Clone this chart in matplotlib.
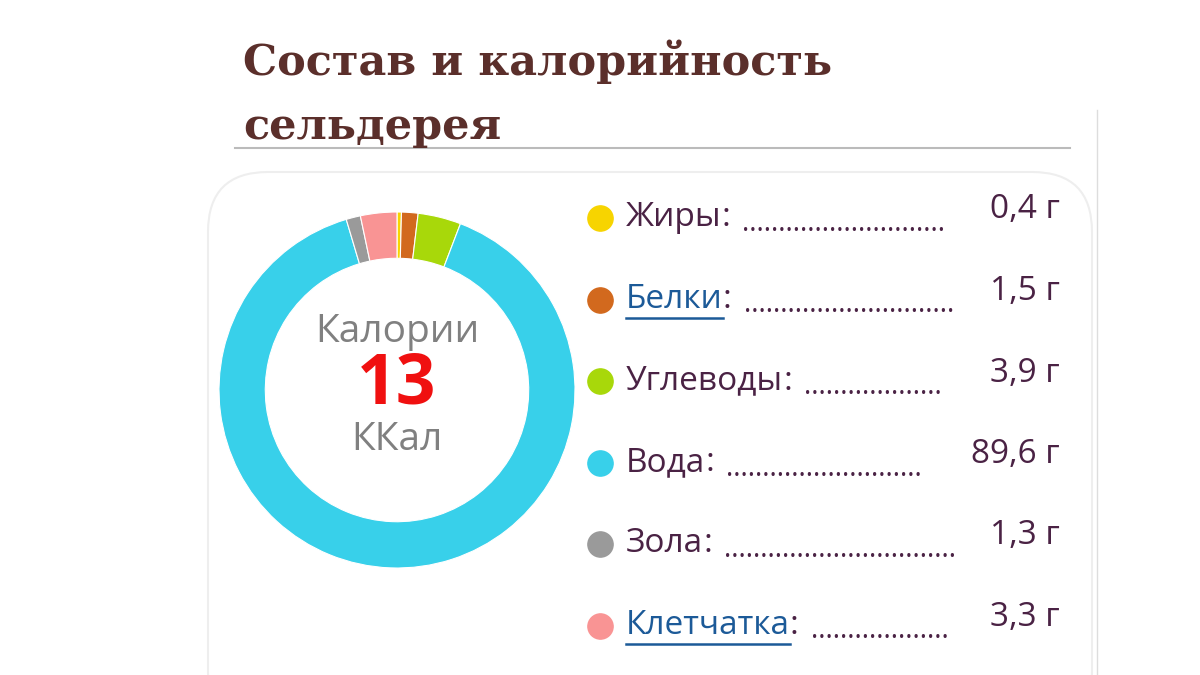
import matplotlib
matplotlib.use("Agg")
from matplotlib import pyplot as plt
from matplotlib.patches import FancyBboxPatch

names = ["Жиры", "Белки", "Углеводы", "Вода", "Зола", "Клетчатка"]
grams = [0.4, 1.5, 3.9, 89.6, 1.3, 3.3]
values = ["0,4 г", "1,5 г", "3,9 г", "89,6 г", "1,3 г", "3,3 г"]
colors = ["#f7d400", "#d2691e", "#a8d80a", "#38d0ea", "#9a9a9a", "#f99494"]
links = [False, True, False, False, False, True]
dot_end = [940, 950, 940, 918, 952, 942]

fig = plt.figure(figsize=(12, 6.75), dpi=100)
ax = fig.add_axes([0, 0, 1, 1])
ax.set_xlim(0, 1200)
ax.set_ylim(675, 0)
ax.axis("off")

ax.text(243, 40, "Состав и калорийность\nсельдерея", family="DejaVu Serif", weight="bold",
        fontsize=31, color="#5b2f2b", va="top", linespacing=1.65)
ax.plot([235, 1070], [148, 148], color="#bbbbbb", lw=1.5)
ax.plot([1097, 1097], [110, 675], color="#dddddd", lw=1)
card = FancyBboxPatch((208, 172), 884, 560, boxstyle="round,pad=0,rounding_size=60",
                      fc="white", ec="#eeeeee", lw=1.5)
ax.add_patch(card)

pax = fig.add_axes([(397 - 178) / 1200, 1 - (390 + 178) / 675, 356 / 1200, 356 / 675])
pax.pie(grams, colors=colors, startangle=90, counterclock=False, radius=1,
        wedgeprops=dict(width=0.26, edgecolor="white", linewidth=0.8))
pax.set_xlim(-1, 1)
pax.set_ylim(-1, 1)
pax.set_aspect("equal")
pax.axis("off")

f = "Open Sans"
ax.text(397, 332, "Калории", family=f, fontsize=28, color="#808080", ha="center", va="center")
ax.text(397, 385, "13", family=f, fontsize=50, weight="bold", color="#f01010", ha="center", va="center")
ax.text(397, 440, "ККал", family=f, fontsize=28, color="#808080", ha="center", va="center")

fig.canvas.draw()
r = fig.canvas.get_renderer()
inv = ax.transData.inverted()
for i, n in enumerate(names):
    y = 218 + i * 81.5
    ax.scatter([600], [y], s=330, color=colors[i], zorder=3)
    c = "#1c5a98" if links[i] else "#4a2244"
    t = ax.text(626, y, n, family=f, fontsize=24, color=c, va="center")
    x1 = t.get_window_extent(r).transformed(inv).x1
    if links[i]:
        ax.plot([626, x1], [y + 18, y + 18], color=c, lw=1.8)
    t2 = ax.text(x1, y, ":", family=f, fontsize=24, color="#4a2244", va="center")
    x2 = t2.get_window_extent(r).transformed(inv).x1 + 12
    ld = ax.text(x2, y + 6, ".", family=f, fontsize=20, color="#4a2244", va="center")
    k = 1
    while ld.get_window_extent(r).transformed(inv).x1 < dot_end[i]:
        k += 1
        ld.set_text("." * k)
    ax.text(1060, y - 8, values[i], family=f, fontsize=24, color="#4a2244", ha="right", va="center")

fig.savefig("out.png", dpi=100, facecolor="white")
